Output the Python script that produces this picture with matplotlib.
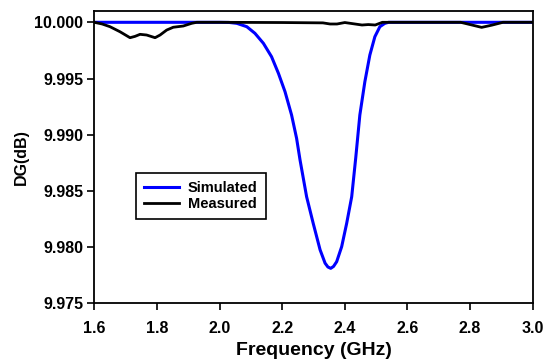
import matplotlib
matplotlib.use('Agg')
import matplotlib.pyplot as plt

plt.rcParams['font.family'] = ['Liberation Sans', 'DejaVu Sans']

# simulated DG
f_sim = [1.600, 1.900, 2.000, 2.030, 2.055, 2.087, 2.113, 2.140, 2.166, 2.188, 2.209,
         2.230, 2.246, 2.257, 2.278, 2.299, 2.321, 2.337, 2.346, 2.355, 2.364, 2.374,
         2.390, 2.406, 2.422, 2.435, 2.448, 2.464, 2.480, 2.496, 2.512, 2.528, 2.540,
         2.700, 3.000]
dg_sim = [10.0, 10.0, 10.0, 9.99999, 9.99991, 9.99961, 9.99902, 9.99813, 9.99694,
          9.99546, 9.99383, 9.99175, 9.98968, 9.98775, 9.98448, 9.98212, 9.97976,
          9.97857, 9.97823, 9.97811, 9.97828, 9.97870, 9.98004, 9.98212, 9.98448,
          9.98797, 9.99175, 9.99471, 9.99709, 9.99872, 9.99961, 9.99991, 10.0, 10.0, 10.0]

# measured DG
f_meas = [1.600, 1.625, 1.650, 1.682, 1.714, 1.730, 1.746, 1.767, 1.794, 1.810, 1.831,
          1.852, 1.884, 1.911, 1.927, 2.00, 2.20, 2.33, 2.353, 2.375, 2.40, 2.455, 2.475,
          2.497, 2.52, 2.77, 2.80, 2.837, 2.87, 2.905, 3.00]
dg_meas = [10.0, 9.99985, 9.99961, 9.99916, 9.99863, 9.99875, 9.99893, 9.99887, 9.99863,
           9.99887, 9.99931, 9.99956, 9.99967, 9.99991, 10.0, 10.0, 9.99998, 9.99995,
           9.99985, 9.99985, 9.99998, 9.99976, 9.99980, 9.99976, 10.0, 10.0, 9.99980,
           9.99955, 9.99975, 10.0, 10.0]

xticks = [1.6, 1.8, 2.0, 2.2, 2.4, 2.6, 2.8, 3.0]
yticks = [9.975, 9.980, 9.985, 9.990, 9.995, 10.000]

fig = plt.figure(figsize=(5.5, 3.63), dpi=100)
ax = fig.add_axes([0.1715, 0.1645, 0.797, 0.805])

ax.plot(f_sim, dg_sim, color='#0000ff', lw=2.2, label='Simulated')
ax.plot(f_meas, dg_meas, color='black', lw=2.0, label='Measured')

ax.set_xlim(1.6, 3.0)
ax.set_ylim(9.975, 10.001)
ax.set_xticks(xticks)
ax.set_xticklabels(['%.1f' % v for v in xticks], fontsize=11.5, fontweight='bold')
ax.set_yticks(yticks)
ax.set_yticklabels(['%.3f' % v for v in yticks], fontsize=11.5, fontweight='bold')
ax.tick_params(direction='out', length=5, width=1.2)
ax.tick_params(axis='y', pad=3)
ax.tick_params(axis='x', pad=8)
for s in ax.spines.values():
    s.set_linewidth(1.3)

ax.set_xlabel('Frequency (GHz)', fontsize=14, fontweight='bold', labelpad=4)
ax.set_ylabel('DG(dB)', fontsize=11.5, fontweight='bold', labelpad=4)

leg = ax.legend(loc='upper left', bbox_to_anchor=(0.095, 0.445), fancybox=False,
                edgecolor='black', framealpha=1, handlelength=2.4, handletextpad=0.6,
                borderaxespad=0, prop={'weight': 'bold', 'size': 10.5},
                borderpad=0.55, labelspacing=0.15)
leg.get_frame().set_linewidth(1.2)

fig.savefig('out.png', dpi=100)
